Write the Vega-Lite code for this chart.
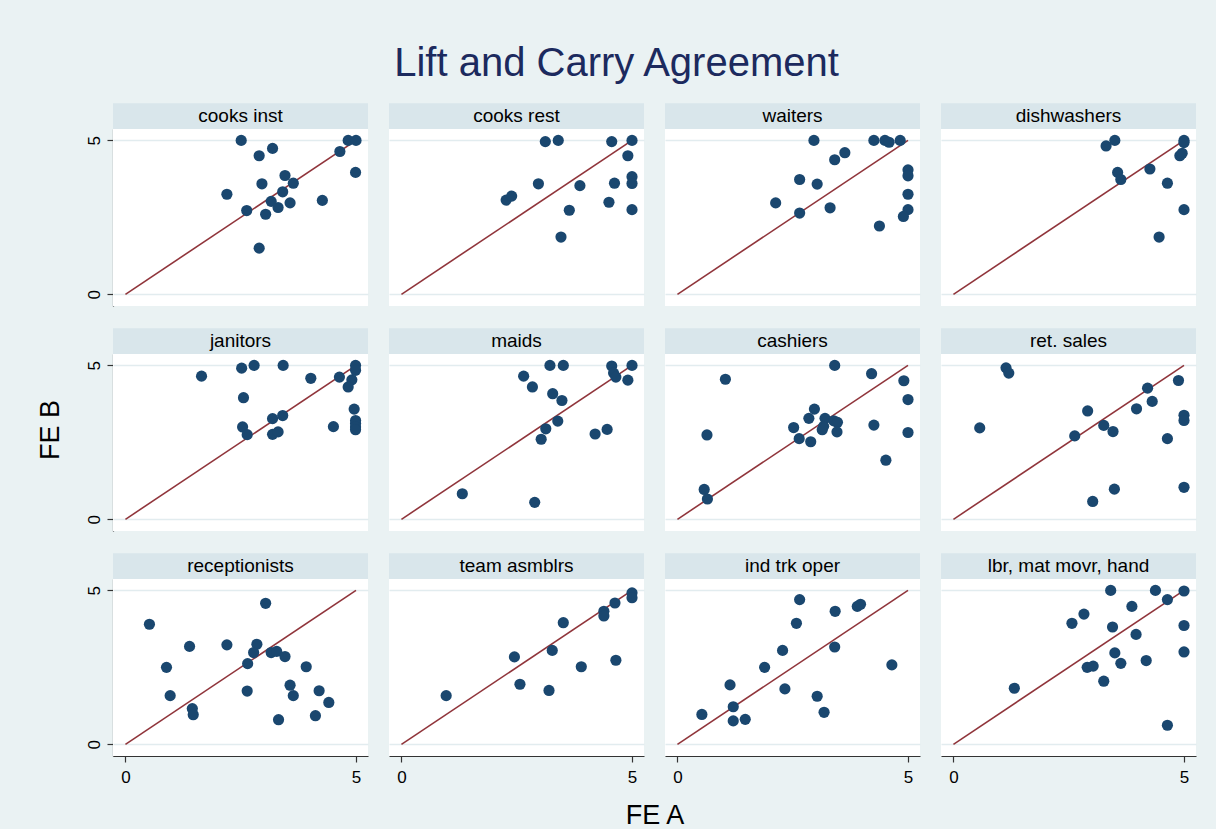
{
"$schema": "https://vega.github.io/schema/vega-lite/v6.json",
"background": "#eaf2f3",
"padding": {"left": 37, "top": 44, "right": 20, "bottom": 2},
"title": {"text": "Lift and Carry Agreement", "fontSize": 40, "font": "Liberation Sans", "fontWeight": "normal", "color": "#1c2a5e", "anchor": "middle", "offset": 19},
"data": {"values": [
{"p":"cooks inst","r":1,"c":1,"k":"fit","a":0,"b":0},{"p":"cooks inst","r":1,"c":1,"k":"fit","a":5,"b":5},
{"p":"cooks rest","r":1,"c":2,"k":"fit","a":0,"b":0},{"p":"cooks rest","r":1,"c":2,"k":"fit","a":5,"b":5},
{"p":"waiters","r":1,"c":3,"k":"fit","a":0,"b":0},{"p":"waiters","r":1,"c":3,"k":"fit","a":5,"b":5},
{"p":"dishwashers","r":1,"c":4,"k":"fit","a":0,"b":0},{"p":"dishwashers","r":1,"c":4,"k":"fit","a":5,"b":5},
{"p":"janitors","r":2,"c":1,"k":"fit","a":0,"b":0},{"p":"janitors","r":2,"c":1,"k":"fit","a":5,"b":5},
{"p":"maids","r":2,"c":2,"k":"fit","a":0,"b":0},{"p":"maids","r":2,"c":2,"k":"fit","a":5,"b":5},
{"p":"cashiers","r":2,"c":3,"k":"fit","a":0,"b":0},{"p":"cashiers","r":2,"c":3,"k":"fit","a":5,"b":5},
{"p":"ret. sales","r":2,"c":4,"k":"fit","a":0,"b":0},{"p":"ret. sales","r":2,"c":4,"k":"fit","a":5,"b":5},
{"p":"receptionists","r":3,"c":1,"k":"fit","a":0,"b":0},{"p":"receptionists","r":3,"c":1,"k":"fit","a":5,"b":5},
{"p":"team asmblrs","r":3,"c":2,"k":"fit","a":0,"b":0},{"p":"team asmblrs","r":3,"c":2,"k":"fit","a":5,"b":5},
{"p":"ind trk oper","r":3,"c":3,"k":"fit","a":0,"b":0},{"p":"ind trk oper","r":3,"c":3,"k":"fit","a":5,"b":5},
{"p":"lbr, mat movr, hand","r":3,"c":4,"k":"fit","a":0,"b":0},{"p":"lbr, mat movr, hand","r":3,"c":4,"k":"fit","a":5,"b":5},

{"p":"cooks inst","r":1,"c":1,"k":"pt","a":2.51,"b":5},{"p":"cooks inst","r":1,"c":1,"k":"pt","a":3.19,"b":4.74},{"p":"cooks inst","r":1,"c":1,"k":"pt","a":2.9,"b":4.5},{"p":"cooks inst","r":1,"c":1,"k":"pt","a":4.83,"b":5},{"p":"cooks inst","r":1,"c":1,"k":"pt","a":5,"b":5},{"p":"cooks inst","r":1,"c":1,"k":"pt","a":4.65,"b":4.64},{"p":"cooks inst","r":1,"c":1,"k":"pt","a":4.99,"b":3.96},{"p":"cooks inst","r":1,"c":1,"k":"pt","a":3.46,"b":3.86},{"p":"cooks inst","r":1,"c":1,"k":"pt","a":2.96,"b":3.59},{"p":"cooks inst","r":1,"c":1,"k":"pt","a":3.64,"b":3.61},{"p":"cooks inst","r":1,"c":1,"k":"pt","a":2.2,"b":3.25},{"p":"cooks inst","r":1,"c":1,"k":"pt","a":3.41,"b":3.33},{"p":"cooks inst","r":1,"c":1,"k":"pt","a":3.16,"b":3.02},{"p":"cooks inst","r":1,"c":1,"k":"pt","a":4.27,"b":3.05},{"p":"cooks inst","r":1,"c":1,"k":"pt","a":3.57,"b":2.97},{"p":"cooks inst","r":1,"c":1,"k":"pt","a":2.63,"b":2.72},{"p":"cooks inst","r":1,"c":1,"k":"pt","a":3.31,"b":2.82},{"p":"cooks inst","r":1,"c":1,"k":"pt","a":3.04,"b":2.6},{"p":"cooks inst","r":1,"c":1,"k":"pt","a":2.9,"b":1.5},

{"p":"cooks rest","r":1,"c":2,"k":"pt","a":3.12,"b":4.96},{"p":"cooks rest","r":1,"c":2,"k":"pt","a":3.4,"b":5},{"p":"cooks rest","r":1,"c":2,"k":"pt","a":4.56,"b":4.96},{"p":"cooks rest","r":1,"c":2,"k":"pt","a":5,"b":5},{"p":"cooks rest","r":1,"c":2,"k":"pt","a":4.91,"b":4.5},{"p":"cooks rest","r":1,"c":2,"k":"pt","a":2.97,"b":3.59},{"p":"cooks rest","r":1,"c":2,"k":"pt","a":3.87,"b":3.53},{"p":"cooks rest","r":1,"c":2,"k":"pt","a":4.62,"b":3.61},{"p":"cooks rest","r":1,"c":2,"k":"pt","a":5,"b":3.82},{"p":"cooks rest","r":1,"c":2,"k":"pt","a":5,"b":3.6},{"p":"cooks rest","r":1,"c":2,"k":"pt","a":2.27,"b":3.06},{"p":"cooks rest","r":1,"c":2,"k":"pt","a":2.39,"b":3.19},{"p":"cooks rest","r":1,"c":2,"k":"pt","a":3.64,"b":2.73},{"p":"cooks rest","r":1,"c":2,"k":"pt","a":4.5,"b":2.99},{"p":"cooks rest","r":1,"c":2,"k":"pt","a":5,"b":2.75},{"p":"cooks rest","r":1,"c":2,"k":"pt","a":3.46,"b":1.86},

{"p":"waiters","r":1,"c":3,"k":"pt","a":2.96,"b":5},{"p":"waiters","r":1,"c":3,"k":"pt","a":4.26,"b":5},{"p":"waiters","r":1,"c":3,"k":"pt","a":4.5,"b":5},{"p":"waiters","r":1,"c":3,"k":"pt","a":4.59,"b":4.94},{"p":"waiters","r":1,"c":3,"k":"pt","a":4.83,"b":5},{"p":"waiters","r":1,"c":3,"k":"pt","a":3.63,"b":4.6},{"p":"waiters","r":1,"c":3,"k":"pt","a":3.41,"b":4.37},{"p":"waiters","r":1,"c":3,"k":"pt","a":2.65,"b":3.73},{"p":"waiters","r":1,"c":3,"k":"pt","a":3.03,"b":3.58},{"p":"waiters","r":1,"c":3,"k":"pt","a":5,"b":4.04},{"p":"waiters","r":1,"c":3,"k":"pt","a":5,"b":3.85},{"p":"waiters","r":1,"c":3,"k":"pt","a":5,"b":3.25},{"p":"waiters","r":1,"c":3,"k":"pt","a":2.13,"b":2.97},{"p":"waiters","r":1,"c":3,"k":"pt","a":2.65,"b":2.64},{"p":"waiters","r":1,"c":3,"k":"pt","a":3.31,"b":2.81},{"p":"waiters","r":1,"c":3,"k":"pt","a":5,"b":2.75},{"p":"waiters","r":1,"c":3,"k":"pt","a":4.9,"b":2.53},{"p":"waiters","r":1,"c":3,"k":"pt","a":4.38,"b":2.22},

{"p":"dishwashers","r":1,"c":4,"k":"pt","a":3.31,"b":4.82},{"p":"dishwashers","r":1,"c":4,"k":"pt","a":3.5,"b":5},{"p":"dishwashers","r":1,"c":4,"k":"pt","a":5,"b":5},{"p":"dishwashers","r":1,"c":4,"k":"pt","a":5,"b":4.93},{"p":"dishwashers","r":1,"c":4,"k":"pt","a":4.91,"b":4.5},{"p":"dishwashers","r":1,"c":4,"k":"pt","a":4.96,"b":4.58},{"p":"dishwashers","r":1,"c":4,"k":"pt","a":3.56,"b":3.96},{"p":"dishwashers","r":1,"c":4,"k":"pt","a":3.63,"b":3.73},{"p":"dishwashers","r":1,"c":4,"k":"pt","a":4.26,"b":4.07},{"p":"dishwashers","r":1,"c":4,"k":"pt","a":4.64,"b":3.61},{"p":"dishwashers","r":1,"c":4,"k":"pt","a":5,"b":2.75},{"p":"dishwashers","r":1,"c":4,"k":"pt","a":4.46,"b":1.86},

{"p":"janitors","r":2,"c":1,"k":"pt","a":1.65,"b":4.65},{"p":"janitors","r":2,"c":1,"k":"pt","a":2.52,"b":4.91},{"p":"janitors","r":2,"c":1,"k":"pt","a":2.79,"b":5},{"p":"janitors","r":2,"c":1,"k":"pt","a":3.42,"b":5},{"p":"janitors","r":2,"c":1,"k":"pt","a":2.56,"b":3.95},{"p":"janitors","r":2,"c":1,"k":"pt","a":4.02,"b":4.58},{"p":"janitors","r":2,"c":1,"k":"pt","a":4.64,"b":4.62},{"p":"janitors","r":2,"c":1,"k":"pt","a":4.91,"b":4.53},{"p":"janitors","r":2,"c":1,"k":"pt","a":4.83,"b":4.3},{"p":"janitors","r":2,"c":1,"k":"pt","a":4.99,"b":5},{"p":"janitors","r":2,"c":1,"k":"pt","a":4.99,"b":4.84},{"p":"janitors","r":2,"c":1,"k":"pt","a":4.96,"b":3.58},{"p":"janitors","r":2,"c":1,"k":"pt","a":4.99,"b":3.21},{"p":"janitors","r":2,"c":1,"k":"pt","a":4.99,"b":3.11},{"p":"janitors","r":2,"c":1,"k":"pt","a":4.99,"b":3.0},{"p":"janitors","r":2,"c":1,"k":"pt","a":4.99,"b":2.91},{"p":"janitors","r":2,"c":1,"k":"pt","a":3.19,"b":3.27},{"p":"janitors","r":2,"c":1,"k":"pt","a":3.41,"b":3.37},{"p":"janitors","r":2,"c":1,"k":"pt","a":2.54,"b":3.0},{"p":"janitors","r":2,"c":1,"k":"pt","a":2.64,"b":2.75},{"p":"janitors","r":2,"c":1,"k":"pt","a":3.19,"b":2.76},{"p":"janitors","r":2,"c":1,"k":"pt","a":3.31,"b":2.84},{"p":"janitors","r":2,"c":1,"k":"pt","a":4.51,"b":3.01},

{"p":"maids","r":2,"c":2,"k":"pt","a":3.22,"b":5},{"p":"maids","r":2,"c":2,"k":"pt","a":3.51,"b":5},{"p":"maids","r":2,"c":2,"k":"pt","a":4.56,"b":4.98},{"p":"maids","r":2,"c":2,"k":"pt","a":5,"b":5},{"p":"maids","r":2,"c":2,"k":"pt","a":4.6,"b":4.75},{"p":"maids","r":2,"c":2,"k":"pt","a":4.65,"b":4.62},{"p":"maids","r":2,"c":2,"k":"pt","a":4.91,"b":4.52},{"p":"maids","r":2,"c":2,"k":"pt","a":2.65,"b":4.65},{"p":"maids","r":2,"c":2,"k":"pt","a":2.84,"b":4.3},{"p":"maids","r":2,"c":2,"k":"pt","a":3.28,"b":4.08},{"p":"maids","r":2,"c":2,"k":"pt","a":3.48,"b":3.86},{"p":"maids","r":2,"c":2,"k":"pt","a":3.39,"b":3.19},{"p":"maids","r":2,"c":2,"k":"pt","a":3.13,"b":2.94},{"p":"maids","r":2,"c":2,"k":"pt","a":3.03,"b":2.6},{"p":"maids","r":2,"c":2,"k":"pt","a":4.2,"b":2.77},{"p":"maids","r":2,"c":2,"k":"pt","a":4.46,"b":2.92},{"p":"maids","r":2,"c":2,"k":"pt","a":1.32,"b":0.83},{"p":"maids","r":2,"c":2,"k":"pt","a":2.89,"b":0.55},

{"p":"cashiers","r":2,"c":3,"k":"pt","a":1.04,"b":4.55},{"p":"cashiers","r":2,"c":3,"k":"pt","a":3.41,"b":5},{"p":"cashiers","r":2,"c":3,"k":"pt","a":4.21,"b":4.73},{"p":"cashiers","r":2,"c":3,"k":"pt","a":4.91,"b":4.5},{"p":"cashiers","r":2,"c":3,"k":"pt","a":5,"b":3.89},{"p":"cashiers","r":2,"c":3,"k":"pt","a":5,"b":2.82},{"p":"cashiers","r":2,"c":3,"k":"pt","a":4.26,"b":3.06},{"p":"cashiers","r":2,"c":3,"k":"pt","a":4.52,"b":1.92},{"p":"cashiers","r":2,"c":3,"k":"pt","a":0.64,"b":2.74},{"p":"cashiers","r":2,"c":3,"k":"pt","a":0.58,"b":0.97},{"p":"cashiers","r":2,"c":3,"k":"pt","a":0.65,"b":0.66},{"p":"cashiers","r":2,"c":3,"k":"pt","a":2.97,"b":3.58},{"p":"cashiers","r":2,"c":3,"k":"pt","a":2.85,"b":3.28},{"p":"cashiers","r":2,"c":3,"k":"pt","a":3.2,"b":3.28},{"p":"cashiers","r":2,"c":3,"k":"pt","a":2.52,"b":2.98},{"p":"cashiers","r":2,"c":3,"k":"pt","a":2.64,"b":2.62},{"p":"cashiers","r":2,"c":3,"k":"pt","a":2.89,"b":2.52},{"p":"cashiers","r":2,"c":3,"k":"pt","a":3.14,"b":2.91},{"p":"cashiers","r":2,"c":3,"k":"pt","a":3.17,"b":3.02},{"p":"cashiers","r":2,"c":3,"k":"pt","a":3.39,"b":3.2},{"p":"cashiers","r":2,"c":3,"k":"pt","a":3.47,"b":3.15},{"p":"cashiers","r":2,"c":3,"k":"pt","a":3.46,"b":2.84},

{"p":"ret. sales","r":2,"c":4,"k":"pt","a":1.14,"b":4.92},{"p":"ret. sales","r":2,"c":4,"k":"pt","a":1.2,"b":4.75},{"p":"ret. sales","r":2,"c":4,"k":"pt","a":0.57,"b":2.97},{"p":"ret. sales","r":2,"c":4,"k":"pt","a":2.91,"b":3.52},{"p":"ret. sales","r":2,"c":4,"k":"pt","a":2.63,"b":2.71},{"p":"ret. sales","r":2,"c":4,"k":"pt","a":3.26,"b":3.05},{"p":"ret. sales","r":2,"c":4,"k":"pt","a":3.46,"b":2.85},{"p":"ret. sales","r":2,"c":4,"k":"pt","a":3.97,"b":3.59},{"p":"ret. sales","r":2,"c":4,"k":"pt","a":4.21,"b":4.26},{"p":"ret. sales","r":2,"c":4,"k":"pt","a":4.31,"b":3.83},{"p":"ret. sales","r":2,"c":4,"k":"pt","a":4.88,"b":4.51},{"p":"ret. sales","r":2,"c":4,"k":"pt","a":5,"b":3.38},{"p":"ret. sales","r":2,"c":4,"k":"pt","a":5,"b":3.21},{"p":"ret. sales","r":2,"c":4,"k":"pt","a":4.64,"b":2.62},{"p":"ret. sales","r":2,"c":4,"k":"pt","a":5,"b":1.04},{"p":"ret. sales","r":2,"c":4,"k":"pt","a":3.49,"b":0.98},{"p":"ret. sales","r":2,"c":4,"k":"pt","a":3.02,"b":0.58},

{"p":"receptionists","r":3,"c":1,"k":"pt","a":0.52,"b":3.9},{"p":"receptionists","r":3,"c":1,"k":"pt","a":3.04,"b":4.58},{"p":"receptionists","r":3,"c":1,"k":"pt","a":0.89,"b":2.5},{"p":"receptionists","r":3,"c":1,"k":"pt","a":0.97,"b":1.58},{"p":"receptionists","r":3,"c":1,"k":"pt","a":1.39,"b":3.18},{"p":"receptionists","r":3,"c":1,"k":"pt","a":1.45,"b":1.16},{"p":"receptionists","r":3,"c":1,"k":"pt","a":1.47,"b":0.96},{"p":"receptionists","r":3,"c":1,"k":"pt","a":2.2,"b":3.23},{"p":"receptionists","r":3,"c":1,"k":"pt","a":2.65,"b":2.62},{"p":"receptionists","r":3,"c":1,"k":"pt","a":2.64,"b":1.73},{"p":"receptionists","r":3,"c":1,"k":"pt","a":2.85,"b":3.25},{"p":"receptionists","r":3,"c":1,"k":"pt","a":2.78,"b":2.98},{"p":"receptionists","r":3,"c":1,"k":"pt","a":3.16,"b":2.98},{"p":"receptionists","r":3,"c":1,"k":"pt","a":3.28,"b":3.02},{"p":"receptionists","r":3,"c":1,"k":"pt","a":3.46,"b":2.85},{"p":"receptionists","r":3,"c":1,"k":"pt","a":3.92,"b":2.52},{"p":"receptionists","r":3,"c":1,"k":"pt","a":3.57,"b":1.92},{"p":"receptionists","r":3,"c":1,"k":"pt","a":3.64,"b":1.58},{"p":"receptionists","r":3,"c":1,"k":"pt","a":3.32,"b":0.8},{"p":"receptionists","r":3,"c":1,"k":"pt","a":4.2,"b":1.74},{"p":"receptionists","r":3,"c":1,"k":"pt","a":4.12,"b":0.93},{"p":"receptionists","r":3,"c":1,"k":"pt","a":4.41,"b":1.36},

{"p":"team asmblrs","r":3,"c":2,"k":"pt","a":0.97,"b":1.58},{"p":"team asmblrs","r":3,"c":2,"k":"pt","a":2.45,"b":2.84},{"p":"team asmblrs","r":3,"c":2,"k":"pt","a":2.57,"b":1.95},{"p":"team asmblrs","r":3,"c":2,"k":"pt","a":3.2,"b":1.75},{"p":"team asmblrs","r":3,"c":2,"k":"pt","a":3.27,"b":3.05},{"p":"team asmblrs","r":3,"c":2,"k":"pt","a":3.51,"b":3.95},{"p":"team asmblrs","r":3,"c":2,"k":"pt","a":3.9,"b":2.52},{"p":"team asmblrs","r":3,"c":2,"k":"pt","a":4.65,"b":2.73},{"p":"team asmblrs","r":3,"c":2,"k":"pt","a":4.39,"b":4.32},{"p":"team asmblrs","r":3,"c":2,"k":"pt","a":4.39,"b":4.17},{"p":"team asmblrs","r":3,"c":2,"k":"pt","a":4.63,"b":4.59},{"p":"team asmblrs","r":3,"c":2,"k":"pt","a":5,"b":4.92},{"p":"team asmblrs","r":3,"c":2,"k":"pt","a":5,"b":4.76},

{"p":"ind trk oper","r":3,"c":3,"k":"pt","a":0.53,"b":0.97},{"p":"ind trk oper","r":3,"c":3,"k":"pt","a":1.14,"b":1.93},{"p":"ind trk oper","r":3,"c":3,"k":"pt","a":1.21,"b":1.22},{"p":"ind trk oper","r":3,"c":3,"k":"pt","a":1.21,"b":0.76},{"p":"ind trk oper","r":3,"c":3,"k":"pt","a":1.47,"b":0.81},{"p":"ind trk oper","r":3,"c":3,"k":"pt","a":1.89,"b":2.5},{"p":"ind trk oper","r":3,"c":3,"k":"pt","a":2.33,"b":1.8},{"p":"ind trk oper","r":3,"c":3,"k":"pt","a":2.28,"b":3.05},{"p":"ind trk oper","r":3,"c":3,"k":"pt","a":2.58,"b":3.93},{"p":"ind trk oper","r":3,"c":3,"k":"pt","a":2.65,"b":4.7},{"p":"ind trk oper","r":3,"c":3,"k":"pt","a":3.03,"b":1.56},{"p":"ind trk oper","r":3,"c":3,"k":"pt","a":3.18,"b":1.04},{"p":"ind trk oper","r":3,"c":3,"k":"pt","a":3.41,"b":3.16},{"p":"ind trk oper","r":3,"c":3,"k":"pt","a":3.42,"b":4.32},{"p":"ind trk oper","r":3,"c":3,"k":"pt","a":3.9,"b":4.48},{"p":"ind trk oper","r":3,"c":3,"k":"pt","a":3.97,"b":4.55},{"p":"ind trk oper","r":3,"c":3,"k":"pt","a":4.65,"b":2.58},

{"p":"lbr, mat movr, hand","r":3,"c":4,"k":"pt","a":1.32,"b":1.82},{"p":"lbr, mat movr, hand","r":3,"c":4,"k":"pt","a":2.57,"b":3.93},{"p":"lbr, mat movr, hand","r":3,"c":4,"k":"pt","a":2.83,"b":4.23},{"p":"lbr, mat movr, hand","r":3,"c":4,"k":"pt","a":3.41,"b":5},{"p":"lbr, mat movr, hand","r":3,"c":4,"k":"pt","a":3.45,"b":3.81},{"p":"lbr, mat movr, hand","r":3,"c":4,"k":"pt","a":3.87,"b":4.48},{"p":"lbr, mat movr, hand","r":3,"c":4,"k":"pt","a":3.96,"b":3.57},{"p":"lbr, mat movr, hand","r":3,"c":4,"k":"pt","a":4.38,"b":5},{"p":"lbr, mat movr, hand","r":3,"c":4,"k":"pt","a":4.64,"b":4.7},{"p":"lbr, mat movr, hand","r":3,"c":4,"k":"pt","a":5,"b":4.98},{"p":"lbr, mat movr, hand","r":3,"c":4,"k":"pt","a":5,"b":3.86},{"p":"lbr, mat movr, hand","r":3,"c":4,"k":"pt","a":5,"b":3.0},{"p":"lbr, mat movr, hand","r":3,"c":4,"k":"pt","a":3.5,"b":2.97},{"p":"lbr, mat movr, hand","r":3,"c":4,"k":"pt","a":3.63,"b":2.63},{"p":"lbr, mat movr, hand","r":3,"c":4,"k":"pt","a":4.18,"b":2.72},{"p":"lbr, mat movr, hand","r":3,"c":4,"k":"pt","a":2.9,"b":2.5},{"p":"lbr, mat movr, hand","r":3,"c":4,"k":"pt","a":3.03,"b":2.54},{"p":"lbr, mat movr, hand","r":3,"c":4,"k":"pt","a":3.26,"b":2.05},{"p":"lbr, mat movr, hand","r":3,"c":4,"k":"pt","a":4.64,"b":0.62}
]},
"facet": {
  "row": {"field": "r", "type": "ordinal", "header": {"title": "FE B", "titleOrient": "left", "labels": false, "titleFontSize": 27, "titleFont": "Liberation Sans", "titleFontWeight": "normal", "titleColor": "#000000", "titlePadding": 10}},
  "column": {"field": "c", "type": "ordinal", "header": {"title": "FE A", "titleOrient": "bottom", "labels": false, "titleFontSize": 27, "titleFont": "Liberation Sans", "titleFontWeight": "normal", "titleColor": "#000000", "titlePadding": 8}}
},
"spacing": {"row": 22, "column": 21},
"spec": {
  "width": 255,
  "height": 177,
  "layer": [
    {
      "transform": [{"filter": "datum.k == 'fit' && datum.a == 0"}],
      "mark": {"type": "rect", "fill": "#d9e6eb"},
      "encoding": {
        "x": {"datum": -0.27, "type": "quantitative", "title": null, "scale": {"domain": [-0.27, 5.26], "nice": false, "zero": false}},
        "x2": {"datum": 5.26},
        "y": {"datum": 5.37, "type": "quantitative", "title": null, "scale": {"domain": [-0.38, 5.37], "nice": false, "zero": false}},
        "y2": {"datum": 6.21}
      }
    },
    {
      "transform": [{"filter": "datum.k == 'fit' && datum.a == 0"}],
      "mark": {"type": "text", "font": "Liberation Sans", "fontSize": 19, "color": "#000000", "baseline": "middle", "align": "center"},
      "encoding": {
        "x": {"datum": 2.495, "type": "quantitative", "title": null},
        "y": {"datum": 5.79, "type": "quantitative", "title": null},
        "text": {"field": "p", "type": "nominal"}
      }
    },
    {
      "transform": [{"filter": "datum.k == 'fit'"}],
      "mark": {"type": "line", "color": "#90353b", "strokeWidth": 1.6},
      "encoding": {
        "x": {"field": "a", "type": "quantitative", "title": null},
        "y": {"field": "b", "type": "quantitative", "title": null}
      }
    },
    {
      "transform": [{"filter": "datum.k == 'pt'"}],
      "mark": {"type": "circle", "color": "#1a476f", "opacity": 1, "size": 125},
      "encoding": {
        "x": {"field": "a", "type": "quantitative", "title": null, "axis": {"values": [0, 5], "grid": false, "labelPadding": 7, "labelFontSize": 17, "labelFont": "Liberation Sans", "labelColor": "#000000", "domainColor": "#333333", "domainWidth": 1.2, "tickColor": "#333333", "tickSize": 6, "tickWidth": 1.2}},
        "y": {"field": "b", "type": "quantitative", "title": null, "axis": {"values": [0, 5], "grid": true, "gridColor": "#e2ecef", "gridWidth": 1.3, "labelAngle": 270, "labelPadding": 4, "labelFontSize": 17, "labelFont": "Liberation Sans", "labelColor": "#000000", "domainColor": "#333333", "domainWidth": 1.2, "tickColor": "#333333", "tickSize": 6, "tickWidth": 1.2}}
      }
    }
  ]
},
"config": {
  "view": {"fill": "#ffffff", "stroke": null}
}
}
